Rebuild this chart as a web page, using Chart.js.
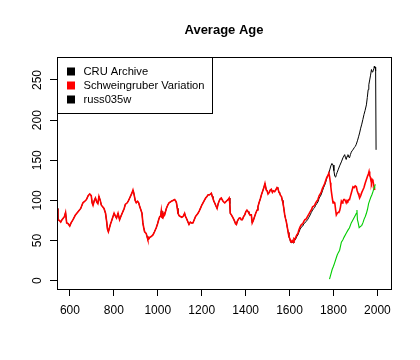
<!DOCTYPE html>
<html>
<head>
<meta charset="utf-8">
<script src="https://cdn.jsdelivr.net/npm/chart.js@4.4.1/dist/chart.umd.min.js"></script>
<style>
  html, body { margin: 0; padding: 0; background: #fff; }
  canvas { display: block; }
</style>
</head>
<body>
<canvas id="c" width="420" height="360"></canvas>
<script>
// --- data ---
const chartTitle = "Average Age";
const seriesNames = ["CRU Archive", "Schweingruber Variation", "russ035w"];
const legendColors = ["#000000", "#ff0000", "#000000"];
const xTicks = [600, 800, 1000, 1200, 1400, 1600, 1800, 2000];
const yTicks = [0, 50, 100, 150, 200, 250];

const schYears = [
  541, 545, 552, 558, 564, 570, 575, 580, 585, 592, 599,
  605, 614, 625, 637, 649, 659, 668, 675, 683, 690, 697,
  701, 705, 711, 716, 722, 727, 732, 738, 743, 749, 755,
  762, 767, 771, 775, 780, 785, 789, 795, 801, 806, 812,
  819, 826, 833, 841, 847, 852, 861, 867, 872, 877, 882,
  887, 890, 893, 897, 902, 908, 913, 918, 922, 928, 932,
  936, 940, 947, 951, 955, 959, 963, 970, 978, 985, 993,
  999, 1004, 1009, 1013, 1016, 1019, 1023, 1028, 1031, 1035, 1039,
  1045, 1051, 1057, 1062, 1069, 1077, 1082, 1085, 1089, 1092, 1097,
  1103, 1109, 1115, 1122, 1126, 1130, 1136, 1142, 1148, 1153, 1160,
  1166, 1172, 1178, 1183, 1189, 1194, 1200, 1206, 1212, 1218, 1224,
  1229, 1236, 1240, 1244, 1248, 1251, 1255, 1259, 1265, 1270, 1275,
  1279, 1284, 1289, 1297, 1305, 1312, 1320, 1325, 1328, 1330, 1335,
  1339, 1345, 1350, 1354, 1358, 1362, 1366, 1371, 1376, 1380, 1385,
  1391, 1396, 1401, 1406, 1411, 1415, 1420, 1426, 1430, 1435, 1441,
  1446, 1452, 1456, 1461, 1467, 1472, 1477, 1482, 1488, 1491, 1494,
  1498, 1502, 1508, 1512, 1517, 1522, 1526, 1532, 1537, 1543, 1547,
  1552, 1555, 1559, 1563, 1567, 1570, 1574, 1578, 1582, 1585, 1590,
  1594, 1597, 1602, 1605, 1608, 1612, 1616, 1620, 1623, 1628, 1633,
  1638, 1642, 1648, 1654, 1660, 1665, 1670, 1676, 1682, 1688, 1694,
  1699, 1705, 1710, 1714, 1719, 1724, 1729, 1735, 1740, 1745, 1750,
  1755, 1760, 1765, 1770, 1775, 1779, 1782, 1786, 1788, 1790, 1794,
  1798, 1802, 1806, 1810, 1813, 1817, 1821, 1825, 1828, 1832, 1836,
  1840, 1843, 1847, 1851, 1855, 1858, 1862, 1866, 1870, 1873, 1877,
  1881, 1885, 1889, 1894, 1899, 1904, 1908, 1912, 1916, 1919, 1924,
  1929, 1934, 1939, 1944, 1950, 1955, 1959, 1962, 1965, 1968, 1971,
  1973, 1976, 1980, 1984, 1988
];
const schValues = [
  90, 76, 75, 73, 76, 78, 80, 85, 72, 71, 68,
  72, 76, 82, 86, 90, 97, 99, 101, 106, 108, 106,
  97, 94, 100, 103, 98, 96, 105, 100, 94, 92, 90,
  84, 74, 64, 61, 66, 71, 74, 79, 84, 81, 78,
  84, 76, 81, 86, 90, 95, 97, 100, 103, 106, 109,
  113, 110, 106, 100, 97, 99, 97, 92, 89, 84, 72,
  66, 61, 59, 55, 51, 52, 54, 55, 57, 61, 66,
  71, 76, 80, 80, 87, 79, 78, 84, 82, 86, 90,
  94, 97, 98, 99, 100, 101, 99, 97, 90, 84, 81,
  80, 79, 80, 84, 80, 78, 74, 70, 73, 72, 72,
  76, 80, 82, 84, 87, 90, 94, 97, 100, 103, 105,
  107, 107, 108, 109, 105, 103, 99, 97, 93, 90, 96,
  99, 102, 103, 99, 97, 99, 101, 103, 96, 84, 82,
  80, 77, 74, 71, 70, 74, 76, 78, 78, 76, 76,
  80, 82, 86, 88, 86, 84, 82, 82, 72, 75, 80,
  84, 88, 92, 97, 102, 107, 111, 115, 121, 117, 113,
  112, 108, 110, 113, 114, 110, 112, 111, 113, 116, 115,
  110, 109, 106, 105, 100, 97, 90, 82, 77, 74, 66,
  60, 55, 52, 49, 48, 50, 48, 52, 51, 54, 57,
  59, 63, 67, 70, 71, 74, 76, 77, 80, 83, 86,
  88, 92, 93, 94, 97, 99, 101, 106, 108, 111, 115,
  118, 121, 125, 129, 131, 134, 130, 122, 117, 112, 104,
  97, 98, 97, 88, 82, 84, 85, 86, 87, 92, 99,
  97, 99, 101, 101, 99, 97, 100, 99, 101, 101, 105,
  109, 113, 117, 116, 118, 117, 112, 109, 106, 103, 106,
  110, 113, 116, 121, 126, 130, 133, 136, 131, 129, 124,
  122, 126, 124, 118, 113
];

const cruYears = [
  541, 545, 552, 558, 564, 570, 575, 580, 585, 592, 599,
  605, 614, 625, 637, 649, 659, 668, 675, 683, 690, 697,
  701, 705, 711, 716, 722, 727, 732, 738, 743, 749, 755,
  762, 767, 771, 775, 780, 785, 789, 795, 801, 806, 812,
  819, 826, 833, 841, 847, 852, 861, 867, 872, 877, 882,
  887, 890, 893, 897, 902, 908, 913, 918, 922, 928, 932,
  936, 940, 947, 951, 955, 959, 963, 970, 978, 985, 993,
  999, 1004, 1009, 1013, 1016, 1019, 1023, 1028, 1031, 1035, 1039,
  1045, 1051, 1057, 1062, 1069, 1077, 1082, 1085, 1089, 1092, 1097,
  1103, 1109, 1115, 1122, 1126, 1130, 1136, 1142, 1148, 1153, 1160,
  1166, 1172, 1178, 1183, 1189, 1194, 1200, 1206, 1212, 1218, 1224,
  1229, 1236, 1240, 1244, 1248, 1251, 1255, 1259, 1265, 1270, 1275,
  1279, 1284, 1289, 1297, 1305, 1312, 1320, 1325, 1328, 1330, 1335,
  1339, 1345, 1350, 1354, 1358, 1362, 1366, 1371, 1376, 1380, 1385,
  1391, 1396, 1401, 1406, 1411, 1415, 1420, 1426, 1430, 1435, 1441,
  1446, 1452, 1456, 1461, 1467, 1472, 1477, 1482, 1488, 1491, 1494,
  1498, 1502, 1508, 1512, 1517, 1522, 1526, 1532, 1537, 1543, 1547,
  1552, 1555, 1559, 1563, 1567, 1570, 1574, 1578, 1582, 1585, 1590,
  1594, 1597, 1602, 1605, 1608, 1612, 1616, 1620, 1623, 1628, 1633,
  1638, 1642, 1648, 1654, 1660, 1665, 1670, 1676, 1682, 1688, 1694,
  1699, 1705, 1710, 1714, 1719, 1724, 1729, 1735, 1740, 1745, 1750,
  1755, 1760, 1765, 1770, 1775, 1779, 1783, 1788, 1793, 1798, 1802,
  1806, 1810, 1813, 1817, 1821, 1828, 1836, 1843, 1851, 1855, 1858,
  1862, 1866, 1870, 1873, 1877, 1881, 1885, 1889, 1895, 1899, 1904,
  1910, 1915, 1919, 1924, 1929, 1934, 1939, 1944, 1950, 1954, 1958,
  1961, 1965, 1969, 1973, 1976, 1980, 1984, 1986, 1988, 1990, 1992,
  1994
];
const cruValues = [
  90, 76, 75, 73, 76, 78, 80, 85, 72, 71, 68,
  72, 76, 82, 86, 90, 97, 99, 101, 106, 108, 106,
  97, 94, 100, 103, 98, 96, 105, 100, 94, 92, 90,
  84, 74, 64, 61, 66, 71, 74, 79, 84, 81, 78,
  84, 76, 81, 86, 90, 95, 97, 100, 103, 106, 109,
  113, 110, 106, 100, 97, 99, 97, 92, 89, 84, 72,
  66, 61, 59, 55, 51, 52, 54, 55, 57, 61, 66,
  71, 76, 80, 80, 87, 79, 78, 84, 82, 86, 90,
  94, 97, 98, 99, 100, 101, 99, 97, 90, 84, 81,
  80, 79, 80, 84, 80, 78, 74, 70, 73, 72, 72,
  76, 80, 82, 84, 87, 90, 94, 97, 100, 103, 105,
  107, 107, 108, 109, 105, 103, 99, 97, 93, 90, 96,
  99, 102, 103, 99, 97, 99, 101, 103, 96, 84, 82,
  80, 77, 74, 71, 70, 74, 76, 78, 78, 76, 76,
  80, 82, 86, 88, 86, 84, 82, 82, 72, 75, 80,
  84, 88, 92, 97, 102, 107, 111, 115, 121, 117, 113,
  112, 108, 110, 113, 114, 110, 112, 111, 113, 116, 115,
  110, 109, 106, 105, 100, 97, 90, 82, 77, 74, 66,
  60, 55, 51, 48, 47, 49, 47, 50, 50, 52, 55,
  57, 60, 64, 67, 68, 71, 72, 74, 76, 79, 82,
  85, 88, 90, 91, 94, 96, 98, 103, 105, 108, 112,
  116, 119, 123, 128, 131, 134, 138, 143, 146, 144, 137,
  130, 129, 132, 135, 138, 143, 148, 153, 157, 153, 151,
  155, 157, 154, 153, 157, 160, 162, 163, 166, 167, 170,
  175, 180, 184, 190, 195, 201, 207, 212, 219, 228, 238,
  244, 250, 256, 263, 260, 261, 264, 267, 265, 266, 261,
  163
];

const russYears = [
  1782, 1788, 1794, 1800, 1805, 1811, 1817, 1822, 1828, 1836,
  1843, 1848, 1858, 1866, 1873, 1881, 1889, 1895, 1901, 1904,
  1907, 1909, 1912, 1917, 1921, 1929, 1934, 1940, 1945, 1950,
  1955, 1960, 1965, 1970, 1975, 1980, 1985, 1988, 1991
];
const russValues = [
  2, 8, 14, 18, 22, 27, 32, 35, 38, 48,
  51, 54, 59, 63, 66, 72, 76, 79, 82, 84,
  88, 76, 73, 66, 67, 69, 72, 77, 80, 84,
  89, 96, 100, 104, 107, 111, 116, 118, 120
];

const FONT = '"Liberation Sans", Arial, sans-serif';

function zip(xs, ys) {
  const n = Math.min(xs.length, ys.length);
  const out = [];
  for (let i = 0; i < n; i++) out.push({ x: xs[i], y: ys[i] });
  return out;
}

// title over the plot, box round the plot, rotated y labels, legend box in the corner
const rPlotPlugin = {
  id: "rPlot",
  afterDraw(chart) {
    const { ctx, chartArea: a, scales } = chart;
    ctx.save();
    ctx.fillStyle = "#000";
    ctx.font = "bold 13px " + FONT;
    ctx.textAlign = "center";
    ctx.textBaseline = "middle";
    ctx.fillText(chartTitle, (a.left + a.right) / 2, 30);

    ctx.strokeStyle = "#000";
    ctx.lineWidth = 1;
    const L = Math.round(a.left) + 0.5, T = Math.round(a.top) + 0.5;
    const R = Math.round(a.right) + 0.5, B = Math.round(a.bottom) + 0.5;
    ctx.strokeRect(L, T, R - L, B - T);

    ctx.font = "12px " + FONT;
    for (const v of yTicks) {
      const y = scales.y.getPixelForValue(v);
      ctx.save();
      ctx.translate(38, y);
      ctx.rotate(-Math.PI / 2);
      ctx.fillText(String(v), 0, 0);
      ctx.restore();
    }

    // legend
    const boxW = 155, boxH = 56;
    ctx.fillStyle = "#fff";
    ctx.fillRect(L, T, boxW, boxH);
    ctx.strokeRect(L, T, boxW, boxH);
    ctx.font = "11.2px " + FONT;
    ctx.textAlign = "left";
    chart.data.datasets.forEach((ds, i) => {
      const cy = T + 14 + i * 14;
      ctx.fillStyle = legendColors[i];
      ctx.fillRect(L + 9.5, cy - 4, 8, 8);
      ctx.fillStyle = "#000";
      ctx.fillText(ds.label, L + 26, cy);
    });
    ctx.restore();
  }
};

new Chart(document.getElementById("c"), {
  type: "line",
  data: {
    datasets: [
      { label: seriesNames[0], data: zip(cruYears, cruValues), borderColor: "#000000", borderWidth: 1, order: 2 },
      { label: seriesNames[1], data: zip(schYears, schValues), borderColor: "#ff0000", borderWidth: 1.6, order: 1 },
      { label: seriesNames[2], data: zip(russYears, russValues), borderColor: "#00cd00", borderWidth: 1.1, order: 0 }
    ]
  },
  options: {
    responsive: false,
    animation: false,
    events: [],
    layout: { padding: { top: 57, right: 29, bottom: 0, left: 0 } },
    elements: {
      line: { tension: 0, fill: false },
      point: { radius: 0 }
    },
    plugins: {
      legend: { display: false },
      tooltip: { enabled: false },
      title: { display: false }
    },
    scales: {
      x: {
        type: "linear",
        min: 541,
        max: 2062,
        afterBuildTicks: (s) => { s.ticks = xTicks.map(v => ({ value: v })); },
        afterFit: (s) => { s.height = 71; },
        grid: { drawOnChartArea: false, drawTicks: true, tickLength: 7, color: "#000" },
        border: { display: true, color: "#000" },
        ticks: {
          color: "#000",
          font: { family: FONT, size: 12 },
          padding: 7,
          maxRotation: 0,
          autoSkip: false,
          callback: (v) => String(v)
        }
      },
      y: {
        type: "linear",
        min: -10.3,
        max: 278.6,
        afterBuildTicks: (s) => { s.ticks = yTicks.map(v => ({ value: v })); },
        afterFit: (s) => { s.width = 57; },
        grid: { drawOnChartArea: false, drawTicks: true, tickLength: 7, color: "#000" },
        border: { display: true, color: "#000" },
        ticks: { display: false }
      }
    }
  },
  plugins: [rPlotPlugin]
});
</script>
</body>
</html>
